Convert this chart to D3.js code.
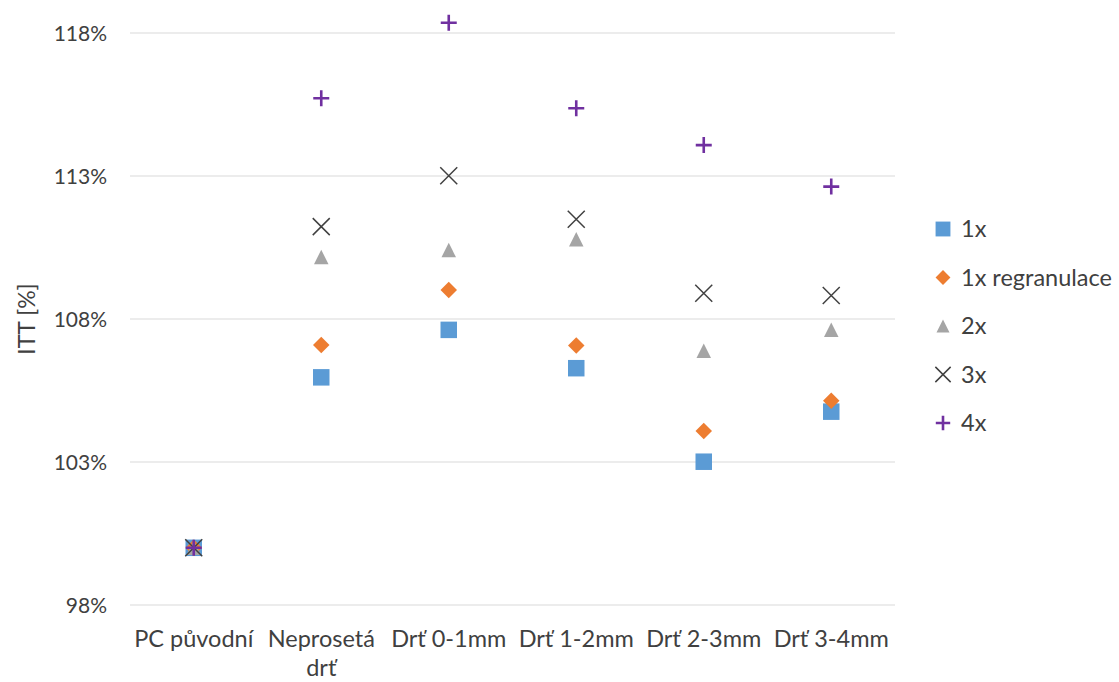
<!DOCTYPE html>
<html>
<head>
<meta charset="utf-8">
<script src="https://cdn.jsdelivr.net/npm/d3@7"></script>
<style>
  html, body { margin: 0; padding: 0; background: #fff; }
  svg { display: block; }
  text { font-family: Lato, "Open Sans", sans-serif; fill: #404040; }
</style>
</head>
<body>
<svg id="chart" width="1119" height="682"></svg>
<script>
// Categories (sample types) and ITT values in % per series
const categories = ["PC původní", "Neprosetá drť", "Drť 0-1mm", "Drť 1-2mm", "Drť 2-3mm", "Drť 3-4mm"];
const seriesNames = ["1x", "1x regranulace", "2x", "3x", "4x"];
const values1x      = [100, 105.96, 107.62, 106.28, 103.01, 104.76];
const values1xRegr  = [100, 107.09, 109.01, 107.07, 104.08, 105.14];
const values2x      = [100, 110.17, 110.41, 110.79, 106.89, 107.62];
const values3x      = [100, 111.23, 113.01, 111.49, 108.90, 108.82];
const values4x      = [100, 115.72, 118.36, 115.37, 114.08, 112.63];
const yTicks = [98, 103, 108, 113, 118];

const seriesValues = [values1x, values1xRegr, values2x, values3x, values4x];

const svg = d3.select("#chart");

const x = d3.scaleBand().domain(categories).range([130, 895]);
const y = d3.scaleLinear().domain([98, 118]).range([605, 33]);

// Marker shapes
const markers = [
  { // square
    path: s => { const h = s / 2; return `M${-h},${-h}H${h}V${h}H${-h}Z`; },
    size: 16.5, fill: "#5b9bd5", stroke: "none", sw: 0
  },
  { // diamond
    path: s => { const h = s / 2; return `M0,${-h}L${h},0L0,${h}L${-h},0Z`; },
    size: 16.5, fill: "#ed7d31", stroke: "none", sw: 0
  },
  { // triangle
    path: s => { const h = s / 2; return `M0,${-h}L${h},${h}L${-h},${h}Z`; },
    size: 14.5, fill: "#a5a5a5", stroke: "none", sw: 0
  },
  { // times
    path: s => { const h = s / 2; return `M${-h},${-h}L${h},${h}M${h},${-h}L${-h},${h}`; },
    size: 17, fill: "none", stroke: "#404040", sw: 1.5
  },
  { // plus
    path: s => { const h = s / 2; return `M${-h},0H${h}M0,${-h}V${h}`; },
    size: 16, fill: "none", stroke: "#7030a0", sw: 2.6
  }
];

// Gridlines
svg.append("g")
  .selectAll("line")
  .data(yTicks)
  .join("line")
  .attr("x1", 130).attr("x2", 895)
  .attr("y1", d => y(d)).attr("y2", d => y(d))
  .attr("stroke", "#d9d9d9").attr("stroke-width", 1.2);

// Y axis labels
const yAxis = d3.axisLeft(y).tickValues(yTicks).tickSize(0).tickPadding(0)
  .tickFormat(d => d + "%");
const yg = svg.append("g").attr("transform", "translate(107,0)").call(yAxis);
yg.select(".domain").remove();
yg.selectAll("text")
  .attr("font-size", 21).attr("font-family", "Lato, 'Open Sans', sans-serif")
  .attr("fill", "#404040").attr("dy", "0.36em");

// Y axis title
svg.append("text")
  .attr("transform", `translate(35,${y(108)}) rotate(-90)`)
  .attr("text-anchor", "middle")
  .attr("font-size", 23)
  .text("ITT [%]");

// X axis labels (wrapped)
const xg = svg.append("g");
categories.forEach(c => {
  const t = xg.append("text")
    .attr("x", x(c) + x.bandwidth() / 2)
    .attr("y", 647)
    .attr("text-anchor", "middle")
    .attr("font-size", 23.5);
  const parts = c === "Neprosetá drť" ? ["Neprosetá", "drť"] : [c];
  parts.forEach((p, i) => {
    t.append("tspan")
      .attr("x", x(c) + x.bandwidth() / 2)
      .attr("dy", i === 0 ? 0 : 29)
      .text(p);
  });
});

// Points
seriesValues.forEach((vals, si) => {
  const m = markers[si];
  svg.append("g")
    .selectAll("path")
    .data(vals.map((v, i) => ({ cat: categories[i], v })))
    .join("path")
    .attr("transform", d => `translate(${x(d.cat) + x.bandwidth() / 2},${y(d.v)})`)
    .attr("d", m.path(m.size))
    .attr("fill", m.fill)
    .attr("stroke", m.stroke)
    .attr("stroke-width", m.sw);
});

// Legend
const legend = svg.append("g").attr("transform", "translate(943,229)");
seriesNames.forEach((name, i) => {
  const m = markers[i];
  const g = legend.append("g").attr("transform", `translate(0,${i * 48.5})`);
  g.append("path")
    .attr("d", m.path(m.size * 0.9))
    .attr("fill", m.fill)
    .attr("stroke", m.stroke)
    .attr("stroke-width", m.sw);
  g.append("text")
    .attr("x", 18)
    .attr("dy", "0.36em")
    .attr("font-size", 23.5)
    .text(name);
});
</script>
</body>
</html>
